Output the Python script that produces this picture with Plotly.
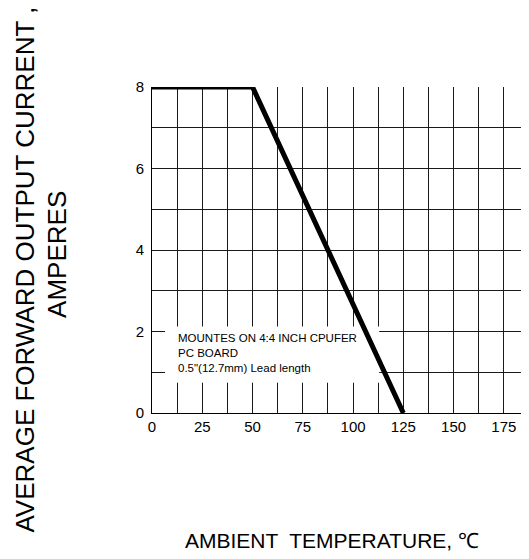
import plotly.graph_objects as go

# Derating curve
temperature = [0, 50, 125]
current = [8, 8, 0]

x_tick_vals = [0, 25, 50, 75, 100, 125, 150, 175]
y_tick_vals = [0, 2, 4, 6, 8]

note_lines = ["MOUNTES ON 4:4 INCH CPUFER", "PC BOARD", "0.5\"(12.7mm) Lead length"]
x_title = "AMBIENT  TEMPERATURE, \u2103"
y_title_1 = "AVERAGE FORWARD OUTPUT CURRENT ,"
y_title_2 = "AMPERES"

FONT = "Liberation Sans, Arial, sans-serif"
GRID = "#1a1a1a"

fig = go.Figure()
fig.add_trace(go.Scatter(
    x=temperature, y=current, mode="lines",
    line=dict(color="black", width=5),
    cliponaxis=False, hoverinfo="skip", showlegend=False,
))

fig.add_shape(type="rect", xref="x", yref="y",
              x0=6.5, x1=113, y0=0.74, y1=2.12,
              fillcolor="white", line=dict(width=0), layer="between")

fig.add_annotation(xref="x", yref="y", x=12, y=1.47,
                   text="<br>".join(note_lines), showarrow=False,
                   xanchor="left", yanchor="middle", align="left",
                   font=dict(family=FONT, size=11.5, color="black"))

fig.add_annotation(xref="paper", yref="paper", x=-0.338, y=0.4387,
                   text=y_title_1, textangle=-90, showarrow=False,
                   xanchor="center", yanchor="middle",
                   font=dict(family=FONT, size=26, color="black"))
fig.add_annotation(xref="paper", yref="paper", x=-0.2523, y=0.4877,
                   text=y_title_2, textangle=-90, showarrow=False,
                   xanchor="center", yanchor="middle",
                   font=dict(family=FONT, size=26, color="black"))
fig.add_annotation(xref="paper", yref="paper", x=0.0823, y=-0.3896,
                   text=x_title, showarrow=False,
                   xanchor="left", yanchor="middle",
                   font=dict(family=FONT, size=21, color="black"))

fig.update_xaxes(range=[0, 187.5], tickmode="array", tickvals=x_tick_vals,
                 showgrid=True, gridcolor=GRID, gridwidth=1,
                 minor=dict(dtick=12.5, tick0=0, showgrid=True, gridcolor=GRID, gridwidth=1),
                 showline=True, linecolor="black", linewidth=1,
                 zeroline=False, ticks="",
                 tickfont=dict(family=FONT, size=15, color="black"))
fig.update_yaxes(range=[0, 8], tickmode="array", tickvals=y_tick_vals,
                 showgrid=True, gridcolor=GRID, gridwidth=1,
                 minor=dict(dtick=1, tick0=0, showgrid=True, gridcolor=GRID, gridwidth=1),
                 showline=True, linecolor="black", linewidth=1,
                 zeroline=False, ticks="", ticklabelstandoff=4,
                 tickfont=dict(family=FONT, size=15, color="black"))

fig.update_layout(width=529, height=559,
                  margin=dict(l=144, r=8, t=79, b=154),
                  paper_bgcolor="white", plot_bgcolor="white",
                  font=dict(family=FONT, color="black"))

fig.write_html("out.html")
